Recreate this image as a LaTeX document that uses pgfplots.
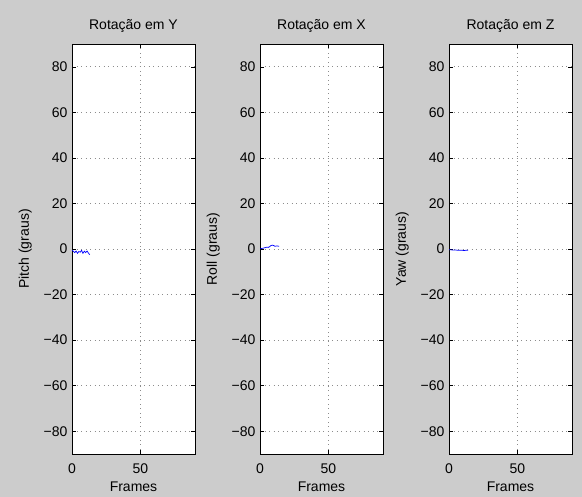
\documentclass[border=0pt]{standalone}
\usepackage{fontspec}
\setmainfont{Liberation Sans}
\usepackage{pgfplots}
\pgfplotsset{compat=1.18}
\definecolor{figgray}{RGB}{204,204,204}

\pgfplotsset{
  rot/.style={
    scale only axis, width=123pt, height=410pt,
    anchor=south west,
    xmin=0, xmax=90, ymin=-90, ymax=90,
    xtick={0,50}, xticklabels={0,50},
    ytick={-80,-60,-40,-20,0,20,40,60,80},
    yticklabels={−80,−60,−40,−20,0,20,40,60,80},
    tick align=inside, major tick length=4pt,
    tick style={black, line width=0.5pt},
    grid=major, grid style={black!45, line width=0.7pt, dash pattern=on 0.7pt off 3.8pt},
    axis line style={black, line width=0.9pt},
    axis background/.style={fill=white},
    tick label style={font=\fontsize{14}{16}\selectfont},
    label style={font=\fontsize{14}{16}\selectfont},
    title style={font=\fontsize{14}{16}\selectfont, yshift=2pt},
    xlabel={Frames},
    xticklabel style={yshift=-6pt},
    xlabel style={yshift=-2pt},
    ylabel style={yshift=5pt},
    yticklabel style={xshift=-1pt},
  },
}

\pgfplotstableread{
x y
0 -0.5
1 -1.0
2 -1.6
3 -0.9
4 -1.9
5 -1.1
6 -1.4
7 -0.6
8 -1.9
9 -1.0
10 -1.6
11 -0.9
12 -1.8
13 -2.5
}\pitchdata

\pgfplotstableread{
x y
0 0.0
1 0.2
2 0.3
3 0.5
4 0.6
5 0.8
6 0.7
7 1.0
8 1.5
9 1.7
10 1.5
11 1.2
12 1.3
13 1.3
14 1.2
}\rolldata

\pgfplotstableread{
x y
0 -0.3
1 -0.4
2 -0.4
3 -0.5
4 -0.5
5 -0.4
6 -0.6
7 -0.5
8 -0.6
9 -0.5
10 -0.6
11 -0.7
12 -0.6
13 -0.5
14 -0.6
}\yawdata

\begin{document}
\begin{tikzpicture}
\fill[figgray] (0,0) rectangle (582pt,497pt);
\path[use as bounding box] (0,0) rectangle (582pt,497pt);

\begin{axis}[rot, at={(72pt,43pt)}, title={Rotação em Y}, ylabel={Pitch (graus)}]
\addplot[blue, line width=0.7pt, no marks] table[x=x, y=y] {\pitchdata};
\end{axis}

\begin{axis}[rot, at={(260pt,43pt)}, title={Rotação em X}, ylabel={Roll (graus)}]
\addplot[blue, line width=0.7pt, no marks] table[x=x, y=y] {\rolldata};
\end{axis}

\begin{axis}[rot, at={(449pt,43pt)}, title={Rotação em Z}, ylabel={Yaw (graus)}]
\addplot[blue, line width=0.7pt, no marks] table[x=x, y=y] {\yawdata};
\end{axis}
\end{tikzpicture}
\end{document}
